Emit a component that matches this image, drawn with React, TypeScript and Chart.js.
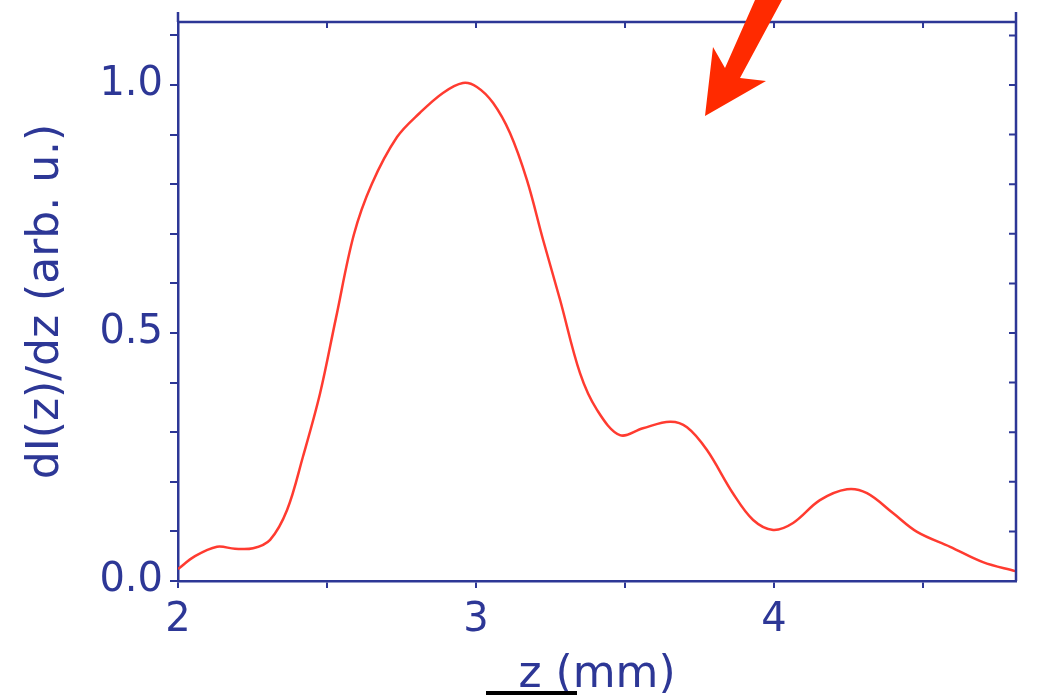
import React, { useEffect, useRef } from "react";
import { Chart, registerables } from "chart.js";

Chart.register(...registerables);

const zValues = [2.000, 2.057, 2.131, 2.191, 2.252, 2.309, 2.366, 2.419, 2.477, 2.530, 2.590, 2.650, 2.735, 2.812, 2.889, 2.956, 3.003, 3.057, 3.114, 3.171, 3.225, 3.282, 3.349, 3.406, 3.483, 3.560, 3.651, 3.708, 3.775, 3.862, 3.930, 3.997, 4.064, 4.154, 4.245, 4.312, 4.399, 4.480, 4.591, 4.701, 4.809];
const dIdz = [0.024, 0.050, 0.069, 0.065, 0.066, 0.083, 0.143, 0.250, 0.379, 0.530, 0.698, 0.800, 0.895, 0.944, 0.984, 1.004, 0.996, 0.964, 0.903, 0.808, 0.688, 0.567, 0.419, 0.345, 0.294, 0.308, 0.321, 0.310, 0.264, 0.177, 0.123, 0.103, 0.117, 0.163, 0.185, 0.177, 0.137, 0.099, 0.069, 0.038, 0.020];

const xMin = 2;
const xMax = 4.812;
const yMin = 0;
const yMax = 1.127;
const xTitle = "z (mm)";
const yTitle = "dI(z)/dz (arb. u.)";

const NAVY = "#2d3796";
const RED = "#ff3b30";
const FONT = "'DejaVu Sans', Verdana, sans-serif";

const framePlugin = {
  id: "frame",
  afterDraw(chart: any) {
    const { ctx, chartArea } = chart;
    const { left, right, top, bottom } = chartArea;
    const xs = chart.scales.x;
    const ys = chart.scales.y;
    ctx.save();
    ctx.strokeStyle = NAVY;
    ctx.lineWidth = 2.5;
    ctx.beginPath();
    ctx.moveTo(left, top);
    ctx.lineTo(right, top);
    ctx.moveTo(right, top - 10);
    ctx.lineTo(right, bottom);
    ctx.moveTo(left, top - 10);
    ctx.lineTo(left, top);
    ctx.stroke();
    ctx.lineWidth = 2;
    ctx.beginPath();
    for (let v = 2.5; v < xMax; v += 0.5) {
      const px = xs.getPixelForValue(v);
      ctx.moveTo(px, top);
      ctx.lineTo(px, top + 6);
    }
    for (let i = 1; i * 0.1 < yMax; i++) {
      const py = ys.getPixelForValue(i * 0.1);
      ctx.moveTo(right, py);
      ctx.lineTo(right - 7, py);
    }
    ctx.stroke();

    ctx.fillStyle = "#ff2a00";
    ctx.beginPath();
    ctx.moveTo(755, 0);
    ctx.lineTo(782, 0);
    ctx.lineTo(740, 78);
    ctx.lineTo(766, 81);
    ctx.lineTo(705, 116);
    ctx.lineTo(713, 47);
    ctx.lineTo(725, 68);
    ctx.closePath();
    ctx.fill();

    ctx.fillStyle = "#000000";
    ctx.fillRect(486, 691, 91, 4);
    ctx.restore();
  },
};

export default function App() {
  const ref = useRef<HTMLCanvasElement | null>(null);

  useEffect(() => {
    if (!ref.current) return;
    const chart = new Chart(ref.current, {
      type: "line",
      data: {
        datasets: [
          {
            data: zValues.map((z, i) => ({ x: z, y: dIdz[i] })),
            borderColor: RED,
            borderWidth: 2.5,
            pointRadius: 0,
            tension: 0.35,
            cubicInterpolationMode: "default",
            fill: false,
          },
        ],
      },
      options: {
        animation: false,
        responsive: false,
        maintainAspectRatio: false,
        events: [],
        layout: { padding: { top: 22, right: 23, left: 0, bottom: 0 } },
        plugins: {
          legend: { display: false },
          tooltip: { enabled: false },
          title: { display: false },
        },
        scales: {
          x: {
            type: "linear",
            min: xMin,
            max: xMax,
            afterFit: (s: any) => {
              s.height = 114;
              s.paddingLeft = 0;
              s.paddingRight = 0;
            },
            border: { display: true, color: NAVY, width: 2.5 },
            grid: {
              display: true,
              drawOnChartArea: false,
              drawTicks: true,
              tickLength: 7,
              color: NAVY,
              lineWidth: 2,
            },
            ticks: {
              stepSize: 0.5,
              includeBounds: false,
              autoSkip: false,
              maxRotation: 0,
              padding: 9,
              color: NAVY,
              font: { family: FONT, size: 40 },
              callback: (v: any) => {
                const n = Number(v);
                return Math.abs(n - Math.round(n)) < 1e-6 ? String(Math.round(n)) : "";
              },
            },
            title: {
              display: true,
              text: xTitle,
              color: NAVY,
              font: { family: FONT, size: 44, lineHeight: 0.9 },
              padding: 0,
            },
          },
          y: {
            type: "linear",
            min: yMin,
            max: yMax,
            afterFit: (s: any) => {
              s.width = 178;
              s.paddingTop = 0;
              s.paddingBottom = 0;
            },
            border: { display: true, color: NAVY, width: 2.5 },
            grid: {
              display: true,
              drawOnChartArea: false,
              drawTicks: true,
              tickLength: 8,
              color: NAVY,
              lineWidth: 2,
            },
            ticks: {
              stepSize: 0.1,
              includeBounds: false,
              autoSkip: false,
              padding: 7,
              color: NAVY,
              font: { family: FONT, size: 40 },
              callback: (v: any) => {
                const n = Number(v);
                return Math.abs(n * 2 - Math.round(n * 2)) < 1e-6 ? n.toFixed(1) : "";
              },
            },
            title: {
              display: true,
              text: yTitle,
              color: NAVY,
              font: { family: FONT, size: 44, lineHeight: 1 },
              padding: { top: 25, bottom: 0 },
            },
          },
        },
      },
      plugins: [framePlugin],
    } as any);
    return () => chart.destroy();
  }, []);

  return (
    <div style={{ position: "absolute", left: 0, top: 0, width: 1039, height: 695, background: "#ffffff" }}>
      <canvas ref={ref} width={1039} height={695} style={{ display: "block" }} />
    </div>
  );
}
